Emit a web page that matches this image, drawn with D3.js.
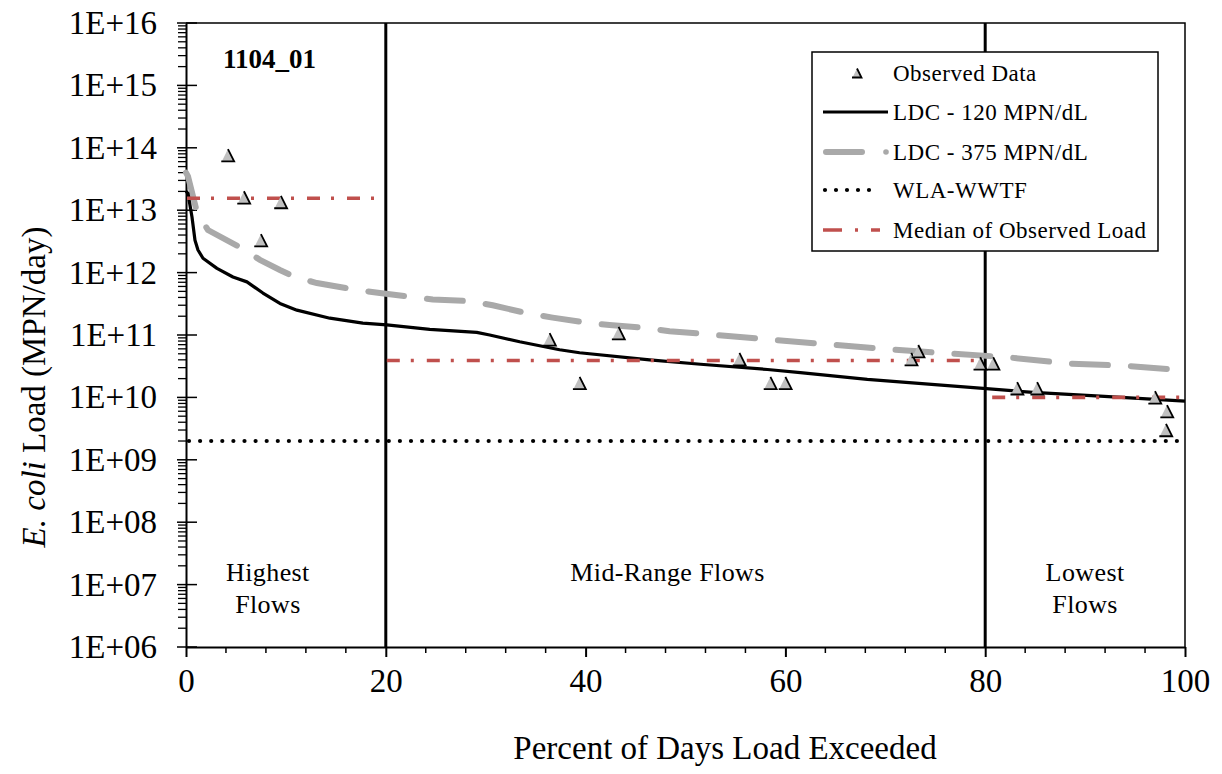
<!DOCTYPE html>
<html><head><meta charset="utf-8">
<script src="https://cdn.jsdelivr.net/npm/d3@7"></script>
<style>
html,body{margin:0;padding:0;background:#fff;}
svg text{font-family:"Liberation Serif","Times New Roman",serif;fill:#000;}
</style></head>
<body>
<svg id="chart" width="1222" height="774"></svg>
<script>
// ---------- data ----------
const ldc120X = [0, 0.2, 0.6, 0.9, 1.2, 1.7, 3.1, 4.7, 6.1, 7.7, 9.4, 11.1, 14.4, 17.7, 20.1, 24.4, 29.1, 30.4, 33.4, 37.4, 39.4, 46.4, 51.5, 58.2, 61.5, 68.2, 79.8, 84.8, 91.5, 100];
const ldc120Y = [2.0e13, 1.86e13, 7.8e12, 3.3e12, 2.3e12, 1.7e12, 1.17e12, 8.5e11, 7.1e11, 4.7e11, 3.2e11, 2.5e11, 1.86e11, 1.55e11, 1.45e11, 1.23e11, 1.1e11, 1.0e11, 7.8e10, 5.8e10, 5.2e10, 4.0e10, 3.4e10, 2.8e10, 2.5e10, 1.95e10, 1.4e10, 1.2e10, 1.05e10, 8.7e9];
const ldc375X = [0, 0.2, 1.1, 2.2, 5.6, 7.4, 9.4, 10.9, 13.1, 16.7, 19.4, 22.4, 24.7, 28.4, 30.7, 34.1, 36.7, 40.4, 42.4, 46.1, 48.4, 52.5, 58.2, 64.2, 70.2, 76.2, 82.2, 88.2, 94.2, 100];
const ldc375Y = [4.0e13, 3.5e13, 9.3e12, 4.8e12, 2.45e12, 1.6e12, 1.1e12, 8.5e11, 6.8e11, 5.4e11, 4.7e11, 4.1e11, 3.7e11, 3.5e11, 3.0e11, 2.24e11, 1.9e11, 1.55e11, 1.45e11, 1.29e11, 1.15e11, 1.02e11, 8.5e10, 7.1e10, 5.9e10, 5.1e10, 4.4e10, 3.5e10, 3.2e10, 2.7e10];
const obsX = [4.2, 5.8, 7.5, 9.5, 36.4, 39.4, 43.3, 55.4, 58.5, 60.0, 72.6, 73.3, 79.5, 80.8, 83.2, 85.2, 97.0, 98.2, 98.1];
const obsY = [7.6e13, 1.6e13, 3.3e12, 1.35e13, 8.5e10, 1.7e10, 1.07e11, 4.1e10, 1.7e10, 1.7e10, 4.1e10, 5.5e10, 3.5e10, 3.5e10, 1.4e10, 1.4e10, 1.0e10, 6.0e9, 3.0e9];
const medianStart = [0, 20, 80.6];
const medianEnd = [19, 80, 100];
const medianVal = [1.55e13, 3.9e10, 1.0e10];
const wlaVal = 2.0e9;
const zoneBreaks = [20, 80];
const zoneLabelX = [8.2, 48.2, 90.0];
const zoneLabels = [["Highest", "Flows"], ["Mid-Range Flows"], ["Lowest", "Flows"]];
const xTicks = [0, 20, 40, 60, 80, 100];
const yExponents = [6, 7, 8, 9, 10, 11, 12, 13, 14, 15, 16];
const legendLabels = ["Observed Data", "LDC - 120 MPN/dL", "LDC - 375 MPN/dL", "WLA-WWTF", "Median of Observed Load"];
const stationLabel = "1104_01";

// ---------- setup ----------
const svg = d3.select("#chart");
const x = d3.scaleLinear().domain([0, 100]).range([186, 1185]);
const y = d3.scaleLog().domain([1e6, 1e16]).range([647, 23]);
const RED = "#c0504d", GRAY = "#a9a9a9", TRI = "#c0c0c0";

// frame (top and right)
svg.append("path").attr("d", `M${x(0)},${y(1e16)}H${x(100)}V${y(1e6)}`)
  .attr("fill", "none").attr("stroke", "#000").attr("stroke-width", 1.5);

// ---------- axes ----------
const yVals = yExponents.map(e => Math.pow(10, e));
const minorY = [];
yExponents.slice(0, -1).forEach(e => { for (let m = 2; m <= 9; m++) minorY.push(m * Math.pow(10, e)); });

const yAxis = d3.axisLeft(y).tickValues(yVals).tickSize(0).tickPadding(29)
  .tickFormat(d => "1E+" + String(Math.round(Math.log10(d))).padStart(2, "0"));
const gy = svg.append("g").attr("transform", `translate(${x(0)},0)`).call(yAxis);
gy.select(".domain").attr("stroke-width", 2);
gy.selectAll("text").attr("font-size", 33).style("font-family", '"Liberation Serif",serif');
svg.append("g").selectAll("line").data(yVals).join("line")
  .attr("x1", x(0) - 9).attr("x2", x(0) + 11).attr("y1", d => y(d)).attr("y2", d => y(d))
  .attr("stroke", "#000").attr("stroke-width", 1.5);
svg.append("g").selectAll("line").data(minorY).join("line")
  .attr("x1", x(0) - 8).attr("x2", x(0)).attr("y1", d => y(d)).attr("y2", d => y(d))
  .attr("stroke", "#000").attr("stroke-width", 1.3);

const xAxis = d3.axisBottom(x).tickValues(xTicks).tickSizeInner(10).tickSizeOuter(0).tickPadding(12);
const gx = svg.append("g").attr("transform", `translate(0,${y(1e6)})`).call(xAxis);
gx.select(".domain").attr("stroke-width", 2.2);
gx.selectAll(".tick line").attr("stroke-width", 2);
gx.selectAll("text").attr("font-size", 33).style("font-family", '"Liberation Serif",serif');
const minorX = d3.range(0, 101, 4).filter(v => v % 20 !== 0);
svg.append("g").selectAll("line").data(minorX).join("line")
  .attr("x1", d => x(d)).attr("x2", d => x(d)).attr("y1", y(1e6)).attr("y2", y(1e6) + 6)
  .attr("stroke", "#000").attr("stroke-width", 1.5);

// zone lines
svg.append("g").selectAll("line").data(zoneBreaks).join("line")
  .attr("x1", d => x(d)).attr("x2", d => x(d)).attr("y1", y(1e16)).attr("y2", y(1e6))
  .attr("stroke", "#000").attr("stroke-width", 3);

// ---------- series ----------
const line = d3.line().x(d => x(d[0])).y(d => y(d[1]));

svg.append("line").attr("x1", x(0) + 3).attr("x2", x(100) - 8).attr("y1", y(wlaVal)).attr("y2", y(wlaVal))
  .attr("stroke", "#000").attr("stroke-width", 4.2).attr("stroke-linecap", "round").attr("stroke-dasharray", "0,11.1");

svg.append("path").datum(ldc375X.map((v, i) => [v, ldc375Y[i]]))
  .attr("d", line).attr("fill", "none").attr("stroke", GRAY).attr("stroke-width", 6)
  .attr("stroke-linecap", "round").attr("stroke-dasharray", "36,23");

svg.append("path").datum(ldc120X.map((v, i) => [v, ldc120Y[i]]))
  .attr("d", line).attr("fill", "none").attr("stroke", "#000").attr("stroke-width", 3.2)
  .attr("stroke-linejoin", "round");

svg.append("g").selectAll("line").data(medianVal).join("line")
  .attr("x1", (d, i) => x(medianStart[i]) + 1)
  .attr("x2", (d, i) => x(medianEnd[i]) - 1)
  .attr("y1", d => y(d)).attr("y2", d => y(d))
  .attr("stroke", RED).attr("stroke-width", 3.6).attr("stroke-dasharray", "13,11,3,13");

function tri(g, cx, cy, s) {
  g.append("path").attr("d", `M${cx},${cy - s}L${cx + s},${cy + s}L${cx - s},${cy + s}Z`).attr("fill", TRI);
  g.append("path").attr("d", `M${cx},${cy - s}L${cx + s},${cy + s}L${cx - s - 0.5},${cy + s}`)
    .attr("fill", "none").attr("stroke", "#000").attr("stroke-width", 1.8).attr("stroke-linejoin", "miter");
}
const gObs = svg.append("g");
obsX.forEach((v, i) => tri(gObs, x(v), y(obsY[i]), 6.2));

// ---------- texts ----------
svg.append("text").attr("x", 223).attr("y", 68).attr("font-size", 27).attr("font-weight", "bold").text(stationLabel);

zoneLabels.forEach((lines, i) => {
  lines.forEach((t, j) => {
    svg.append("text").attr("x", x(zoneLabelX[i])).attr("y", 581 + j * 32)
      .attr("text-anchor", "middle").attr("font-size", 26).attr("letter-spacing", 0.4).text(t);
  });
});

svg.append("text").attr("x", 725).attr("y", 759).attr("text-anchor", "middle")
  .attr("font-size", 33).text("Percent of Days Load Exceeded");

const yt = svg.append("text").attr("transform", "translate(45,387) rotate(-90)")
  .attr("text-anchor", "middle").attr("font-size", 33);
yt.append("tspan").attr("font-style", "italic").text("E. coli");
yt.append("tspan").text(" Load (MPN/day)");

// ---------- legend ----------
const lg = svg.append("g");
lg.append("rect").attr("x", 812).attr("y", 52).attr("width", 346).attr("height", 199)
  .attr("fill", "#fff").attr("stroke", "#000").attr("stroke-width", 1.5);
const rowY = [73, 112, 152, 190, 230];
legendLabels.forEach((t, i) => {
  lg.append("text").attr("x", 893).attr("y", rowY[i] + 8).attr("font-size", 23)
    .attr("letter-spacing", 0.5).text(t);
});
tri(lg, 857, rowY[0], 4.5);
lg.append("line").attr("x1", 823).attr("x2", 888).attr("y1", rowY[1]).attr("y2", rowY[1])
  .attr("stroke", "#000").attr("stroke-width", 3.2);
lg.append("line").attr("x1", 826).attr("x2", 862).attr("y1", rowY[2]).attr("y2", rowY[2])
  .attr("stroke", GRAY).attr("stroke-width", 6).attr("stroke-linecap", "round");
lg.append("circle").attr("cx", 886).attr("cy", rowY[2]).attr("r", 2.8).attr("fill", GRAY);
lg.append("line").attr("x1", 825).attr("x2", 880).attr("y1", rowY[3]).attr("y2", rowY[3])
  .attr("stroke", "#000").attr("stroke-width", 4.2).attr("stroke-linecap", "round").attr("stroke-dasharray", "0,11");
lg.append("line").attr("x1", 823).attr("x2", 880).attr("y1", rowY[4]).attr("y2", rowY[4])
  .attr("stroke", RED).attr("stroke-width", 3.6).attr("stroke-dasharray", "19,13,3,13");
</script>
</body></html>
